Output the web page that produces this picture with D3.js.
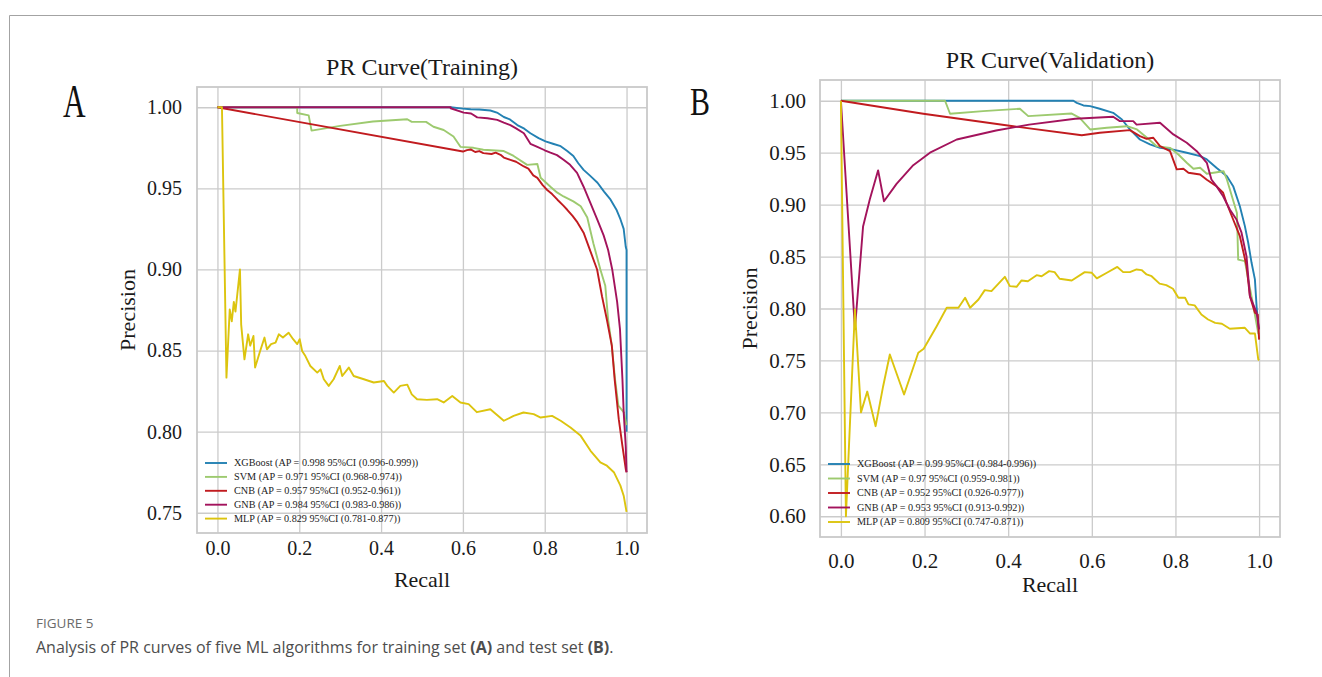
<!DOCTYPE html>
<html>
<head>
<meta charset="utf-8">
<script src="https://cdn.jsdelivr.net/npm/d3@7"></script>
<style>
  html, body { margin: 0; padding: 0; background: #fff; }
  svg { display: block; }
</style>
</head>
<body>
<div id="chart"></div>
<script>
// ---- data ----
const models = ["XGBoost", "SVM", "CNB", "GNB", "MLP"];
const colors = ["#2381b3", "#9dca6f", "#c11b1f", "#a3135c", "#dcc40e"];

const trainLabels = [
  "XGBoost (AP = 0.998 95%CI (0.996-0.999))",
  "SVM (AP = 0.971 95%CI (0.968-0.974))",
  "CNB (AP = 0.957 95%CI (0.952-0.961))",
  "GNB (AP = 0.984 95%CI (0.983-0.986))",
  "MLP (AP = 0.829 95%CI (0.781-0.877))"
];
const validLabels = [
  "XGBoost (AP = 0.99 95%CI (0.984-0.996))",
  "SVM (AP = 0.97 95%CI (0.959-0.981))",
  "CNB (AP = 0.952 95%CI (0.926-0.977))",
  "GNB (AP = 0.953 95%CI (0.913-0.992))",
  "MLP (AP = 0.809 95%CI (0.747-0.871))"
];

const recallTicks = [0, 0.2, 0.4, 0.6, 0.8, 1.0];
const trainPrecTicks = [0.75, 0.80, 0.85, 0.90, 0.95, 1.00];
const validPrecTicks = [0.60, 0.65, 0.70, 0.75, 0.80, 0.85, 0.90, 0.95, 1.00];

// [recall, precision]
const trainXGB = [[0,1],[0.57,1],[0.6,0.9992],[0.619,0.9988],[0.64,0.9986],[0.667,0.998],[0.685,0.9965],[0.70,0.994],[0.715,0.9925],[0.733,0.989],[0.75,0.9868],[0.765,0.984],[0.785,0.981],[0.802,0.979],[0.82,0.9775],[0.839,0.976],[0.855,0.973],[0.870,0.970],[0.882,0.9655],[0.895,0.9614],[0.91,0.958],[0.929,0.9535],[0.945,0.948],[0.961,0.943],[0.975,0.937],[0.985,0.931],[0.993,0.925],[0.998,0.914],[1.0,0.912],[1.0,0.80]];
const trainSVM = [[0,1],[0.195,1],[0.195,0.9965],[0.223,0.995],[0.23,0.9856],[0.30,0.9885],[0.38,0.9912],[0.464,0.9926],[0.475,0.991],[0.51,0.991],[0.528,0.988],[0.553,0.986],[0.577,0.982],[0.594,0.9756],[0.626,0.975],[0.65,0.9738],[0.70,0.973],[0.724,0.970],[0.757,0.9645],[0.782,0.965],[0.79,0.9565],[0.814,0.951],[0.83,0.9475],[0.846,0.945],[0.870,0.942],[0.888,0.939],[0.904,0.932],[0.919,0.916],[0.936,0.9],[0.948,0.89],[0.955,0.869],[0.964,0.853],[0.972,0.832],[0.98,0.816],[0.993,0.812],[1.0,0.804]];
const trainCNB = [[0,1],[0.6,0.9727],[0.61,0.9736],[0.619,0.974],[0.63,0.9724],[0.64,0.973],[0.65,0.9717],[0.67,0.9712],[0.68,0.972],[0.692,0.9707],[0.70,0.969],[0.716,0.9676],[0.73,0.9664],[0.749,0.9635],[0.76,0.9622],[0.772,0.958],[0.782,0.9565],[0.795,0.952],[0.806,0.949],[0.818,0.9465],[0.831,0.943],[0.845,0.9395],[0.855,0.9368],[0.868,0.933],[0.88,0.929],[0.895,0.9227],[0.912,0.911],[0.928,0.9],[0.94,0.8835],[0.952,0.869],[0.964,0.853],[0.971,0.832],[0.981,0.8077],[0.99,0.791],[0.998,0.777],[1.0,0.775]];
const trainGNB = [[0,1],[0.57,1],[0.57,0.9994],[0.602,0.9967],[0.62,0.9962],[0.635,0.9938],[0.66,0.9932],[0.684,0.9922],[0.70,0.9905],[0.716,0.989],[0.73,0.987],[0.749,0.984],[0.765,0.9775],[0.782,0.9756],[0.80,0.9735],[0.814,0.972],[0.83,0.9705],[0.846,0.9676],[0.862,0.9645],[0.879,0.9596],[0.895,0.951],[0.91,0.942],[0.928,0.931],[0.944,0.921],[0.955,0.912],[0.965,0.900],[0.977,0.880],[0.984,0.863],[0.99,0.832],[0.993,0.812],[0.998,0.791],[1.0,0.775]];
const trainMLP = [[0,1],[0.011,1],[0.022,0.8333],[0.030,0.8753],[0.035,0.868],[0.040,0.880],[0.044,0.874],[0.055,0.900],[0.058,0.866],[0.066,0.8446],[0.075,0.860],[0.08,0.853],[0.088,0.859],[0.092,0.8395],[0.103,0.8487],[0.115,0.858],[0.121,0.8507],[0.131,0.854],[0.142,0.8549],[0.15,0.86],[0.16,0.858],[0.174,0.861],[0.185,0.857],[0.195,0.854],[0.201,0.857],[0.207,0.8497],[0.215,0.8466],[0.227,0.8405],[0.244,0.8364],[0.252,0.8384],[0.26,0.8323],[0.272,0.8282],[0.284,0.8323],[0.299,0.8405],[0.305,0.8343],[0.321,0.8395],[0.333,0.8343],[0.358,0.8323],[0.382,0.8303],[0.407,0.8312],[0.415,0.8282],[0.431,0.8241],[0.447,0.8282],[0.464,0.829],[0.475,0.823],[0.488,0.82],[0.512,0.8196],[0.537,0.82],[0.553,0.818],[0.574,0.822],[0.594,0.818],[0.614,0.817],[0.634,0.812],[0.667,0.8138],[0.70,0.8067],[0.724,0.8097],[0.748,0.8118],[0.773,0.8108],[0.79,0.8087],[0.818,0.8097],[0.839,0.8067],[0.863,0.8026],[0.888,0.7974],[0.912,0.7882],[0.936,0.781],[0.952,0.779],[0.969,0.775],[0.985,0.7667],[0.993,0.7605],[1.0,0.7505]];

const validXGB = [[0,1],[0.556,1],[0.564,0.998],[0.58,0.9955],[0.596,0.9948],[0.619,0.9923],[0.651,0.9884],[0.672,0.982],[0.691,0.9724],[0.715,0.9627],[0.739,0.958],[0.763,0.9547],[0.795,0.953],[0.827,0.950],[0.859,0.9467],[0.875,0.9435],[0.898,0.9355],[0.923,0.9274],[0.938,0.9178],[0.954,0.8985],[0.966,0.8793],[0.974,0.8633],[0.982,0.844],[0.99,0.828],[0.994,0.802],[0.998,0.783],[1.0,0.78]];
const validSVM = [[0,1],[0.249,1],[0.261,0.9875],[0.34,0.990],[0.428,0.9923],[0.448,0.9852],[0.551,0.9878],[0.571,0.9836],[0.596,0.9724],[0.636,0.974],[0.684,0.9755],[0.708,0.9724],[0.732,0.9643],[0.755,0.9563],[0.787,0.9547],[0.807,0.9483],[0.827,0.9403],[0.843,0.9345],[0.859,0.9355],[0.875,0.9297],[0.915,0.9322],[0.923,0.9242],[0.935,0.9081],[0.947,0.892],[0.95,0.847],[0.966,0.8456],[0.974,0.828],[0.986,0.803],[0.998,0.776],[1.0,0.775]];
const validCNB = [[0,1],[0.197,0.9875],[0.412,0.9755],[0.576,0.9668],[0.619,0.9692],[0.691,0.9717],[0.715,0.966],[0.731,0.9634],[0.747,0.9644],[0.763,0.9563],[0.787,0.9515],[0.803,0.934],[0.819,0.9345],[0.831,0.9307],[0.859,0.929],[0.875,0.924],[0.898,0.9178],[0.914,0.9114],[0.922,0.9018],[0.938,0.8857],[0.954,0.8696],[0.97,0.8408],[0.978,0.8119],[0.99,0.7959],[0.997,0.794],[1.0,0.77]];
const validGNB = [[0,1],[0.0335,0.780],[0.053,0.879],[0.069,0.905],[0.089,0.933],[0.103,0.9033],[0.133,0.92],[0.173,0.938],[0.213,0.95],[0.277,0.9627],[0.371,0.9714],[0.45,0.977],[0.56,0.9827],[0.651,0.9846],[0.667,0.9804],[0.699,0.9804],[0.707,0.977],[0.763,0.9788],[0.795,0.9676],[0.827,0.9596],[0.851,0.9515],[0.875,0.9403],[0.886,0.9242],[0.898,0.9178],[0.914,0.9081],[0.93,0.8953],[0.946,0.8857],[0.958,0.873],[0.97,0.850],[0.978,0.812],[0.994,0.796],[1.0,0.78]];
const validMLP = [[0,1],[0.012,0.60],[0.0335,0.799],[0.048,0.70],[0.063,0.720],[0.083,0.6867],[0.101,0.7252],[0.117,0.7557],[0.151,0.7172],[0.185,0.7574],[0.198,0.7612],[0.229,0.783],[0.253,0.8007],[0.281,0.8007],[0.297,0.8103],[0.309,0.8007],[0.329,0.8087],[0.344,0.8177],[0.36,0.8167],[0.392,0.8305],[0.404,0.8215],[0.42,0.8209],[0.432,0.827],[0.447,0.8263],[0.468,0.8321],[0.48,0.8311],[0.498,0.836],[0.511,0.835],[0.523,0.8286],[0.552,0.827],[0.583,0.835],[0.6,0.8344],[0.612,0.829],[0.636,0.8344],[0.661,0.840],[0.675,0.835],[0.691,0.835],[0.707,0.8376],[0.719,0.837],[0.731,0.8328],[0.743,0.8311],[0.762,0.824],[0.778,0.8225],[0.794,0.819],[0.807,0.8103],[0.823,0.8103],[0.831,0.804],[0.846,0.803],[0.862,0.7942],[0.878,0.7894],[0.895,0.7862],[0.911,0.7853],[0.93,0.7805],[0.966,0.7814],[0.978,0.776],[0.99,0.776],[0.998,0.751],[1.0,0.75]];

const trainCurves = [trainXGB, trainSVM, trainCNB, trainGNB, trainMLP];
const validCurves = [validXGB, validSVM, validCNB, validGNB, validMLP];

// ---- drawing ----
const W = 1322, H = 677;
const serif = "'Liberation Serif', 'Times New Roman', serif";

const svg = d3.select("#chart").append("svg")
  .attr("width", W)
  .attr("height", H)
  .style("background", "#fff");

// figure box border (left + top)
svg.append("path")
  .attr("d", `M${W},15.5 H9.5 V${H}`)
  .attr("fill", "none")
  .attr("stroke", "#a3a3a3")
  .attr("stroke-width", 1);

function panel(cfg) {
  const x = d3.scaleLinear().domain([-0.05, 1.05]).range([cfg.left, cfg.right]);
  const y = d3.scaleLinear().domain(cfg.yDomain).range([cfg.bottom, cfg.top]);
  const g = svg.append("g");
  const w = cfg.right - cfg.left, h = cfg.bottom - cfg.top;

  // grid + y tick labels
  const yAxis = g.append("g")
    .attr("transform", `translate(${cfg.left},0)`)
    .call(d3.axisLeft(y).tickValues(cfg.yTicks).tickFormat(d3.format(".2f"))
      .tickSize(-w).tickPadding(cfg.tickPad));
  const xAxis = g.append("g")
    .attr("transform", `translate(0,${cfg.bottom})`)
    .call(d3.axisBottom(x).tickValues(recallTicks).tickFormat(d3.format(".1f"))
      .tickSize(-h).tickPadding(cfg.xTickPad));

  [xAxis, yAxis].forEach(a => {
    a.select(".domain").remove();
    a.selectAll(".tick line").attr("stroke", "#cbcbcb").attr("stroke-width", 1.3);
    a.selectAll(".tick text")
      .attr("font-family", serif)
      .attr("font-size", cfg.tickSize)
      .attr("fill", "#1a1a1a");
  });

  // frame
  g.append("rect")
    .attr("x", cfg.left).attr("y", cfg.top)
    .attr("width", w).attr("height", h)
    .attr("fill", "none")
    .attr("stroke", "#c9c9c9")
    .attr("stroke-width", 1.8);

  // curves
  const line = d3.line().x(d => x(d[0])).y(d => y(d[1]));
  g.append("g").selectAll("path")
    .data(cfg.curves)
    .join("path")
    .attr("d", line)
    .attr("fill", "none")
    .attr("stroke", (d, i) => colors[i])
    .attr("stroke-width", 1.9)
    .attr("stroke-linejoin", "round");

  // legend
  const lg = g.append("g");
  cfg.labels.forEach((lab, i) => {
    const ly = cfg.legendY + i * cfg.legendStep;
    lg.append("line")
      .attr("x1", cfg.legendX).attr("x2", cfg.legendX + 22)
      .attr("y1", ly).attr("y2", ly)
      .attr("stroke", colors[i]).attr("stroke-width", 1.9);
    lg.append("text")
      .attr("x", cfg.legendX + 29).attr("y", ly)
      .attr("dy", "0.33em")
      .attr("font-family", serif)
      .attr("font-size", 10.2)
      .attr("fill", "#222")
      .text(lab);
  });

  // title
  g.append("text")
    .attr("x", (cfg.left + cfg.right) / 2).attr("y", cfg.titleY)
    .attr("text-anchor", "middle")
    .attr("font-family", serif)
    .attr("font-size", 24)
    .attr("fill", "#1a1a1a")
    .text(cfg.title);

  // axis labels
  g.append("text")
    .attr("x", (cfg.left + cfg.right) / 2).attr("y", cfg.xLabelY)
    .attr("text-anchor", "middle")
    .attr("font-family", serif)
    .attr("font-size", 22)
    .attr("fill", "#1a1a1a")
    .text("Recall");
  g.append("text")
    .attr("transform", `translate(${cfg.yLabelX},${(cfg.top + cfg.bottom) / 2}) rotate(-90)`)
    .attr("text-anchor", "middle")
    .attr("font-family", serif)
    .attr("font-size", 22)
    .attr("fill", "#1a1a1a")
    .text("Precision");

  // panel letter
  g.append("text")
    .attr("transform", `translate(${cfg.letterX},${cfg.letterY}) scale(${cfg.letterScale},1)`)
    .attr("font-family", serif)
    .attr("font-size", cfg.letterSize)
    .attr("fill", "#111")
    .text(cfg.letter);
}

panel({
  left: 197, right: 647, top: 87, bottom: 533,
  yDomain: [0.7375, 1.0125], yTicks: trainPrecTicks,
  curves: trainCurves, labels: trainLabels,
  tickSize: 20, tickPad: 15, xTickPad: 8,
  legendX: 205, legendY: 463, legendStep: 13.9,
  title: "PR Curve(Training)", titleY: 75,
  xLabelY: 587, yLabelX: 135,
  letter: "A", letterX: 63, letterY: 117, letterSize: 46, letterScale: 0.68
});

panel({
  left: 820, right: 1280, top: 80, bottom: 537,
  yDomain: [0.58, 1.02], yTicks: validPrecTicks,
  curves: validCurves, labels: validLabels,
  tickSize: 21, tickPad: 14, xTickPad: 16,
  legendX: 828, legendY: 464, legendStep: 14.5,
  title: "PR Curve(Validation)", titleY: 68,
  xLabelY: 592, yLabelX: 757,
  letter: "B", letterX: 690, letterY: 115, letterSize: 41, letterScale: 0.73
});

// caption
svg.append("text")
  .attr("x", 36).attr("y", 628)
  .attr("font-family", "'Open Sans', sans-serif")
  .attr("font-size", 13.5)
  .attr("fill", "#6b6b6b")
  .text("FIGURE 5");

const cap = svg.append("text")
  .attr("x", 36).attr("y", 653)
  .attr("font-family", "'Open Sans', sans-serif")
  .attr("font-size", 16)
  .attr("fill", "#4d4d4d");
cap.append("tspan").text("Analysis of PR curves of five ML algorithms for training set ");
cap.append("tspan").attr("font-weight", "bold").text("(A)");
cap.append("tspan").text(" and test set ");
cap.append("tspan").attr("font-weight", "bold").text("(B)");
cap.append("tspan").text(".");
</script>
</body>
</html>
